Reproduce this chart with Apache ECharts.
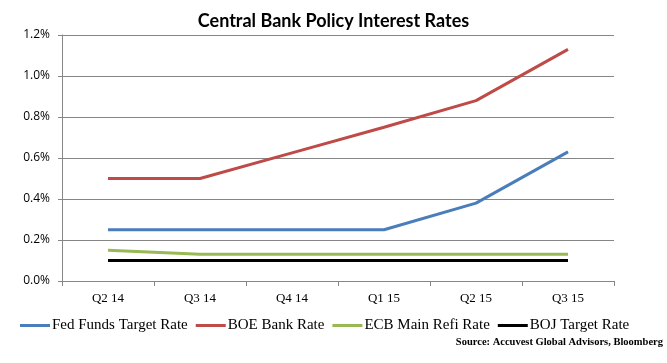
<!DOCTYPE html>
<html>
<head>
<meta charset="utf-8">
<script src="https://cdn.jsdelivr.net/npm/echarts@6/dist/echarts.min.js"></script>
<style>html,body{margin:0;padding:0;background:#fff}#c{width:667px;height:363px}</style>
</head>
<body>
<div id="c"></div>
<script>
const categories = ['Q2 14', 'Q3 14', 'Q4 14', 'Q1 15', 'Q2 15', 'Q3 15'];
const fedFunds = [0.25, 0.25, 0.25, 0.25, 0.38, 0.63];
const boeRate = [0.50, 0.50, 0.625, 0.75, 0.88, 1.13];
const ecbRate = [0.15, 0.13, 0.13, 0.13, 0.13, 0.13];
const bojRate = [0.10, 0.10, 0.10, 0.10, 0.10, 0.10];
const seriesNames = ['Fed Funds Target Rate', 'BOE Bank Rate', 'ECB Main Refi Rate', 'BOJ Target Rate'];
const colors = ['#4A7EBB', '#BE4B48', '#98B954', '#000000'];

const chart = echarts.init(document.getElementById('c'), null, {renderer: 'canvas'});
const mk = (name, data, color) => ({
  name, type: 'line', data, showSymbol: false, symbol: 'none',
  lineStyle: {color, width: 3}, itemStyle: {color}, animation: false
});
chart.setOption({
  animation: false,
  title: {
    text: 'Central Bank Policy Interest Rates', left: 'center', top: 7,
    textStyle: {fontFamily: 'Lato', fontWeight: 'bold', fontSize: 18, color: '#000'}
  },
  grid: {left: 62, right: 53, top: 35, bottom: 82, containLabel: false},
  legend: {
    data: seriesNames, left: 15, top: 313, icon: 'rect', itemWidth: 30, itemHeight: 3,
    itemGap: 8,
    textStyle: {fontFamily: 'Liberation Serif', fontSize: 15, color: '#000', padding: [0, 0, 0, -3]}
  },
  graphic: [{
    type: 'text', right: 4, top: 337,
    style: {text: 'Source: Accuvest Global Advisors, Bloomberg', font: 'bold 10.5px "Liberation Serif"', fill: '#000'}
  }],
  xAxis: {
    type: 'category', data: categories, boundaryGap: true,
    axisLine: {lineStyle: {color: '#868686', width: 1}},
    axisTick: {show: true, length: 5, lineStyle: {color: '#868686'}},
    axisLabel: {fontFamily: 'Liberation Serif', fontSize: 13, color: '#000', margin: 11}
  },
  yAxis: {
    type: 'value', min: 0, max: 1.2, interval: 0.2,
    axisLine: {show: true, lineStyle: {color: '#868686', width: 1}},
    axisTick: {show: true, length: 4, lineStyle: {color: '#868686'}},
    splitLine: {lineStyle: {color: '#868686', width: 1}},
    axisLabel: {fontFamily: 'Open Sans', fontSize: 12, color: '#000', margin: 12,
      formatter: v => v.toFixed(1) + '%'}
  },
  series: [
    mk(seriesNames[0], fedFunds, colors[0]),
    mk(seriesNames[1], boeRate, colors[1]),
    mk(seriesNames[2], ecbRate, colors[2]),
    mk(seriesNames[3], bojRate, colors[3])
  ]
});
</script>
</body>
</html>
